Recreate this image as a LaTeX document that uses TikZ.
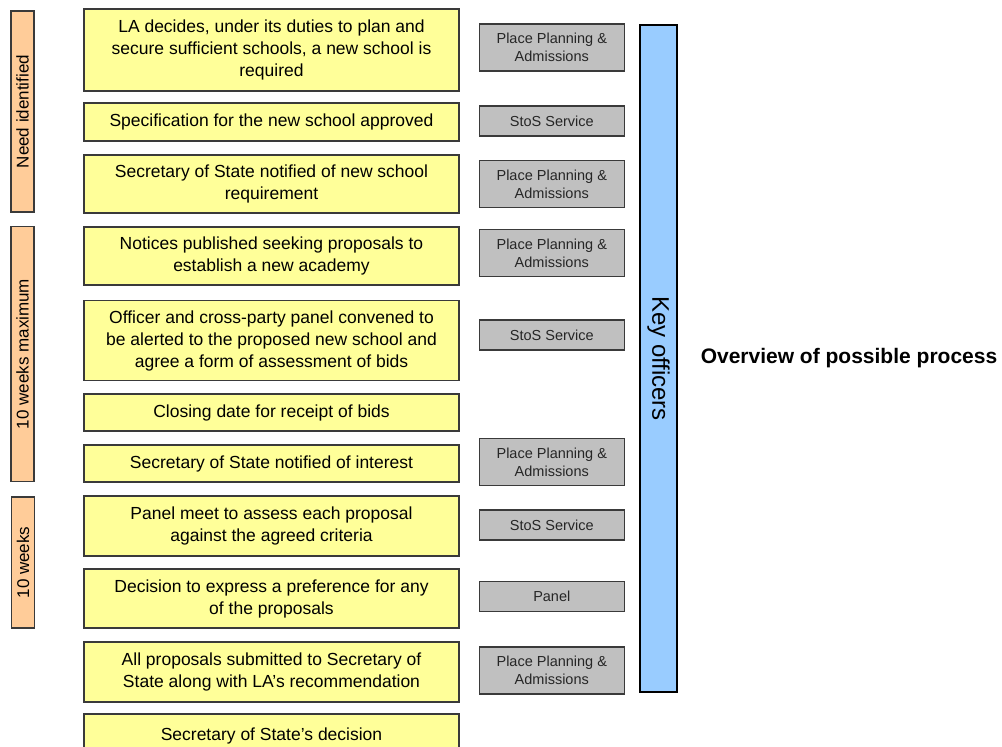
\documentclass[tikz,border=0pt]{standalone}
\usepackage{fontspec}
\setmainfont{Liberation Sans}
\usetikzlibrary{positioning}
\definecolor{stagefill}{HTML}{FFFF99}
\definecolor{whofill}{HTML}{C0C0C0}
\definecolor{phasefill}{HTML}{FFCC99}
\definecolor{keyfill}{HTML}{99CCFF}
\definecolor{edge}{HTML}{3A3A3A}

\begin{document}
\begin{tikzpicture}[x=1pt,y=-1pt,node distance=14pt and 19pt,
  stage/.style={draw=edge,line width=1.3pt,fill=stagefill,minimum width=375pt,align=center,inner sep=2pt,
    font=\fontsize{17.5}{22}\selectfont},
  who/.style={draw=edge,line width=1.3pt,fill=whofill,minimum width=145pt,align=center,inner sep=2pt,
    text=black!85,font=\fontsize{14.5}{18}\selectfont},
  who2/.style={who,minimum height=47pt}, who1/.style={who,minimum height=30pt},
  phase/.style={draw=edge,line width=1.3pt,fill=phasefill,rotate=90,minimum height=23pt,inner sep=0pt,
    font=\fontsize{17}{20}\selectfont}]
  \useasboundingbox (0,0) rectangle (1002,747);
  \clip (0,0) rectangle (1002,747);

  \node[stage,minimum height=82pt] (s1) at (271.5,50)
    {LA decides, under its duties to plan and\\secure sufficient schools, a new school is\\required};
  \node[stage,minimum height=38pt] (s2) at (271.5,122) {Specification for the new school approved};
  \node[stage,minimum height=58pt] (s3) at (271.5,184) {Secretary of State notified of new school\\requirement};
  \node[stage,minimum height=58pt] (s4) at (271.5,256) {Notices published seeking proposals to\\establish a new academy};
  \node[stage,minimum height=80pt] (s5) at (271.5,340.5)
    {Officer and cross-party panel convened to\\be alerted to the proposed new school and\\agree a form of assessment of bids};
  \node[stage,minimum height=37pt] (s6) at (271.5,412.5) {Closing date for receipt of bids};
  \node[stage,minimum height=37pt] (s7) at (271.5,463.5) {Secretary of State notified of interest};
  \node[stage,minimum height=60pt] (s8) at (271.5,526) {Panel meet to assess each proposal\\against the agreed criteria};
  \node[stage,minimum height=59pt] (s9) at (271.5,598.5) {Decision to express a preference for any\\of the proposals};
  \node[stage,minimum height=60pt] (s10) at (271.5,672) {All proposals submitted to Secretary of\\State along with LA's recommendation};
  \node[stage,minimum height=44pt] (s11) at (271.5,736) {Secretary of State's decision};

  \node[who2,right=of s1,yshift=2.5pt] (w1) {Place Planning \&\\Admissions};
  \node[who1,right=of s2,yshift=1pt] (w2) {StoS Service};
  \node[who2,right=of s3] (w3) {Place Planning \&\\Admissions};
  \node[who2,right=of s4,yshift=3pt] (w4) {Place Planning \&\\Admissions};
  \node[who1,right=of s5,yshift=5.5pt] (w5) {StoS Service};
  \node[who2,right=of s7,yshift=1.5pt] (w6) {Place Planning \&\\Admissions};
  \node[who1,right=of s8,yshift=1pt] (w7) {StoS Service};
  \node[who1,right=of s9,yshift=2pt] (w8) {Panel};
  \node[who2,right=of s10,yshift=1.5pt] (w9) {Place Planning \&\\Admissions};

  \node[phase,minimum width=201pt] (p1) at (22.5,111.5) {Need identified};
  \node[phase,minimum width=255pt] (p2) at (22.5,354) {10 weeks maximum};
  \node[phase,minimum width=131pt] (p3) at (23,562.5) {10 weeks};

  \node[draw=black,line width=1.5pt,fill=keyfill,rotate=-90,minimum width=667pt,minimum height=37pt,inner sep=0pt,
    font=\fontsize{24}{28}\selectfont] (ko) at (658.5,358.5) {Key officers};
  \node[font=\bfseries\fontsize{21}{25}\selectfont] (ov) at (849,358) {Overview of possible process};
\end{tikzpicture}
\end{document}
